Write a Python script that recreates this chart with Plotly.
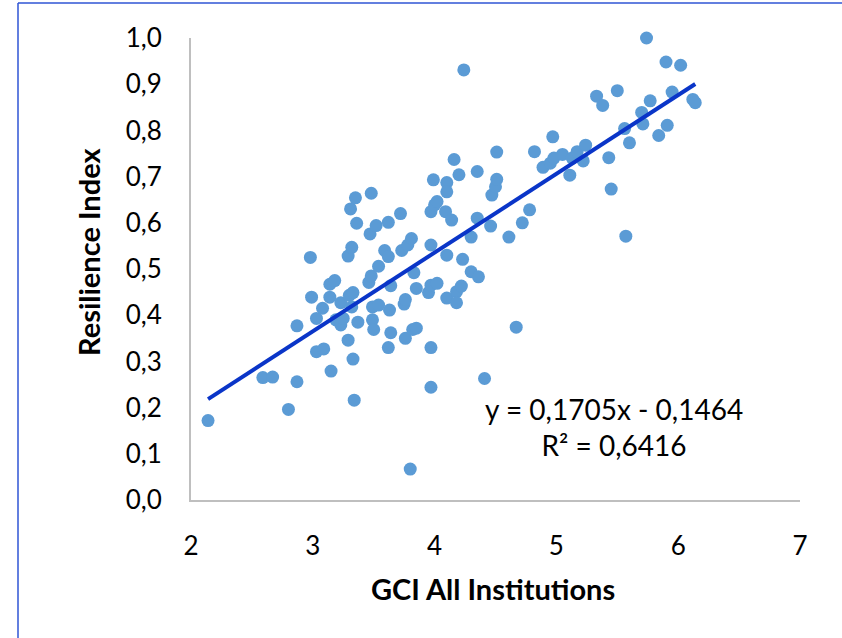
import plotly.graph_objects as go

gci = [2.14, 2.59, 2.67, 2.80, 2.87, 2.87, 2.98, 2.99, 3.03, 3.03, 3.08, 3.09, 3.14, 3.14, 3.15, 3.18,
       3.19, 3.23, 3.23, 3.25, 3.29, 3.29, 3.30, 3.31, 3.32, 3.32, 3.33, 3.33, 3.34, 3.35, 3.36, 3.37,
       3.46, 3.47, 3.48, 3.48, 3.49, 3.49, 3.50, 3.52, 3.54, 3.54, 3.59, 3.62, 3.62, 3.63, 3.62, 3.64,
       3.64, 3.72, 3.73, 3.75, 3.76, 3.76, 3.78, 3.80, 3.81, 3.82, 3.83, 3.85, 3.85, 3.95, 3.97, 3.97,
       3.97, 3.97, 3.97, 3.99, 4.00, 4.02, 4.02, 4.09, 4.10, 4.10, 4.10, 4.10, 4.14, 4.16, 4.18, 4.18,
       4.20, 4.22, 4.23, 4.24, 4.30, 4.30, 4.35, 4.35, 4.36, 4.41, 4.46, 4.47, 4.50, 4.51, 4.51, 4.61,
       4.67, 4.72, 4.78, 4.82, 4.89, 4.95, 4.97, 4.98, 5.05, 5.11, 5.13, 5.17, 5.22, 5.24, 5.33, 5.38,
       5.43, 5.45, 5.50, 5.56, 5.57, 5.60, 5.70, 5.71, 5.74, 5.77, 5.84, 5.90, 5.91, 5.95, 6.02, 6.12,
       6.14]
resilience = [0.172, 0.265, 0.266, 0.196, 0.256, 0.377, 0.525, 0.439, 0.321, 0.393, 0.415, 0.327, 0.467,
              0.439, 0.279, 0.475, 0.390, 0.427, 0.379, 0.393, 0.528, 0.346, 0.443, 0.630, 0.547, 0.418,
              0.449, 0.305, 0.216, 0.654, 0.599, 0.385, 0.471, 0.576, 0.664, 0.485, 0.418, 0.390, 0.369,
              0.594, 0.506, 0.422, 0.540, 0.527, 0.601, 0.411, 0.330, 0.464, 0.362, 0.620, 0.540, 0.424,
              0.434, 0.350, 0.552, 0.067, 0.566, 0.369, 0.492, 0.372, 0.458, 0.449, 0.465, 0.552, 0.624,
              0.330, 0.244, 0.693, 0.639, 0.646, 0.469, 0.624, 0.687, 0.667, 0.530, 0.437, 0.606, 0.737,
              0.451, 0.427, 0.704, 0.463, 0.521, 0.931, 0.569, 0.494, 0.711, 0.610, 0.483, 0.263, 0.593,
              0.660, 0.678, 0.694, 0.753, 0.569, 0.374, 0.600, 0.628, 0.754, 0.720, 0.729, 0.786, 0.740,
              0.748, 0.703, 0.740, 0.754, 0.734, 0.768, 0.874, 0.854, 0.741, 0.673, 0.886, 0.804, 0.571,
              0.773, 0.839, 0.814, 1.000, 0.864, 0.789, 0.948, 0.811, 0.883, 0.941, 0.867, 0.860]

slope = 0.1705
intercept = -0.1464
r_squared = 0.6416

x_ticks = [2, 3, 4, 5, 6, 7]
y_ticks = [0.0, 0.1, 0.2, 0.3, 0.4, 0.5, 0.6, 0.7, 0.8, 0.9, 1.0]

FONT = "Lato"
TICK_SIZE = 26
TEXT_SIZE = 28
TITLE_SIZE = 29

x_fit = [min(gci), max(gci)]
y_fit = [slope * v + intercept for v in x_fit]

fig = go.Figure()
fig.add_trace(go.Scatter(
    x=gci, y=resilience, mode="markers",
    marker=dict(size=13, color="#5B9BD5", line=dict(width=0)),
    cliponaxis=False, showlegend=False, hoverinfo="x+y"))
fig.add_trace(go.Scatter(
    x=x_fit, y=y_fit, mode="lines",
    line=dict(color="#0A35C8", width=4),
    cliponaxis=False, showlegend=False))

def fmt(v, d):
    return f"{v:.{d}f}".replace(".", ",")

eq_text = f"y = {fmt(slope, 4)}x - {fmt(abs(intercept), 4)}<br>R² = {fmt(r_squared, 4)}"

PLOT_L, PLOT_R, PLOT_T, PLOT_B = 191, 800, 38, 500
W, H = 842, 638
pw, ph = PLOT_R - PLOT_L, PLOT_B - PLOT_T

def px(xp):
    return (xp - PLOT_L) / pw

def py(yp):
    return (PLOT_B - yp) / ph

fig.update_layout(
    width=W, height=H,
    margin=dict(l=PLOT_L, r=W - PLOT_R, t=PLOT_T, b=H - PLOT_B, pad=0),
    paper_bgcolor="white", plot_bgcolor="white",
    separators=", ",
    font=dict(family=FONT, size=TEXT_SIZE, color="black"),
    xaxis=dict(range=[2, 7], tickvals=x_ticks, showgrid=False, zeroline=False,
               showline=True, linecolor="#BFBFBF", linewidth=2, ticks="",
               ticklabelstandoff=22, tickfont=dict(family=FONT, size=TICK_SIZE)),
    yaxis=dict(range=[0, 1], tickvals=y_ticks, tickformat=".1f", showgrid=False, zeroline=False,
               showline=True, linecolor="#BFBFBF", linewidth=2, ticks="",
               ticklabelstandoff=22, tickfont=dict(family=FONT, size=TICK_SIZE)),
    annotations=[
        dict(text=eq_text, x=px(614), y=py(427), xref="paper", yref="paper",
             xanchor="center", yanchor="middle",
             showarrow=False, align="center", font=dict(family=FONT, size=TEXT_SIZE)),
        dict(text="<b>GCI All Institutions</b>", x=px(493), y=py(588), xref="paper", yref="paper",
             xanchor="center", yanchor="middle",
             showarrow=False, font=dict(family=FONT, size=TITLE_SIZE)),
        dict(text="<b>Resilience Index</b>", x=px(88), y=py(252), xref="paper", yref="paper",
             xanchor="center", yanchor="middle",
             showarrow=False, textangle=-90, font=dict(family=FONT, size=TITLE_SIZE)),
    ],
    shapes=[
        dict(type="line", xref="paper", yref="paper", x0=px(18), x1=px(850), y0=py(3), y1=py(3),
             line=dict(color="#2F55D4", width=1.5)),
        dict(type="line", xref="paper", yref="paper", x0=px(18), x1=px(18), y0=py(3), y1=py(645),
             line=dict(color="#2F55D4", width=1.5)),
    ],
)

fig.write_html("out.html", config={"displayModeBar": False},
               post_script="document.body.style.margin='0';document.body.style.overflow='hidden';")
